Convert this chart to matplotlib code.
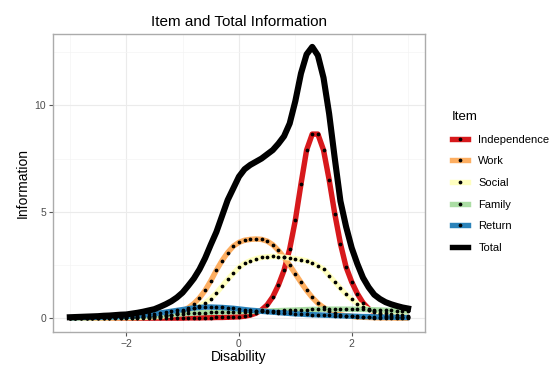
import numpy as np
import matplotlib
matplotlib.use("Agg")
import matplotlib.pyplot as plt
from matplotlib.lines import Line2D

plt.rcParams['font.family'] = ['Liberation Sans', 'DejaVu Sans']

# theta grid, -3 .. 3 by 0.1
theta = np.round(np.arange(-3, 3.001, 0.1), 1)

independence = [0, 0, 0, 0, 0, 0, 0, 0, 0, 0,
                0, 0, 0, 0, 0, 0, 0, 0, 0, 0,
                0, 0.01, 0.01, 0.01, 0.02, 0.02, 0.03, 0.03, 0.04, 0.05,
                0.06, 0.09, 0.14, 0.23, 0.38, 0.62, 1.0, 1.55, 2.25, 3.25,
                4.6, 6.3, 7.9, 8.65, 8.65, 7.9, 6.5, 4.9, 3.5, 2.4,
                1.7, 1.15, 0.72, 0.44, 0.28, 0.18, 0.12, 0.08, 0.05, 0.04,
                0.03]
work = [0, 0, 0, 0, 0, 0, 0, 0, 0, 0.01,
        0.01, 0.01, 0.02, 0.03, 0.04, 0.05, 0.07, 0.1, 0.15, 0.22,
        0.33, 0.48, 0.68, 0.95, 1.3, 1.75, 2.25, 2.7, 3.08, 3.38,
        3.56, 3.66, 3.7, 3.72, 3.7, 3.62, 3.45, 3.18, 2.85, 2.48,
        2.08, 1.68, 1.3, 0.97, 0.7, 0.5, 0.35, 0.24, 0.16, 0.11,
        0.08, 0.05, 0.04, 0.03, 0.02, 0.01, 0.01, 0.01, 0, 0,
        0]
social = [0.01, 0.01, 0.01, 0.01, 0.02, 0.02, 0.02, 0.02, 0.03, 0.03,
          0.03, 0.04, 0.04, 0.05, 0.06, 0.08, 0.1, 0.13, 0.16, 0.21,
          0.27, 0.37, 0.46, 0.58, 0.72, 0.92, 1.18, 1.5, 1.82, 2.1,
          2.38, 2.57, 2.7, 2.79, 2.85, 2.88, 2.9, 2.89, 2.86, 2.83,
          2.79, 2.75, 2.69, 2.6, 2.46, 2.3, 2.0, 1.7, 1.4, 1.12,
          0.88, 0.68, 0.52, 0.4, 0.32, 0.26, 0.22, 0.19, 0.16, 0.14,
          0.12]
family = [0.01, 0.01, 0.02, 0.02, 0.02, 0.03, 0.03, 0.04, 0.04, 0.05,
          0.05, 0.06, 0.07, 0.08, 0.09, 0.1, 0.12, 0.14, 0.16, 0.18,
          0.2, 0.22, 0.23, 0.25, 0.26, 0.27, 0.28, 0.29, 0.29, 0.3,
          0.3, 0.31, 0.31, 0.32, 0.32, 0.33, 0.34, 0.35, 0.36, 0.37,
          0.38, 0.39, 0.4, 0.41, 0.41, 0.42, 0.42, 0.42, 0.42, 0.42,
          0.42, 0.41, 0.41, 0.4, 0.39, 0.38, 0.37, 0.36, 0.35, 0.34,
          0.33]
ret = [0.02, 0.02, 0.03, 0.03, 0.04, 0.04, 0.05, 0.06, 0.06, 0.07,
       0.08, 0.1, 0.12, 0.14, 0.17, 0.2, 0.24, 0.28, 0.32, 0.36,
       0.4, 0.44, 0.48, 0.5, 0.52, 0.52, 0.51, 0.5, 0.48, 0.46,
       0.43, 0.4, 0.37, 0.35, 0.32, 0.3, 0.28, 0.26, 0.24, 0.22,
       0.2, 0.19, 0.17, 0.16, 0.15, 0.14, 0.13, 0.12, 0.11, 0.1,
       0.09, 0.08, 0.07, 0.07, 0.06, 0.05, 0.05, 0.04, 0.04, 0.03,
       0.03]
total = [0.04, 0.05, 0.06, 0.07, 0.08, 0.09, 0.11, 0.12, 0.14, 0.16,
         0.17, 0.21, 0.25, 0.3, 0.36, 0.42, 0.53, 0.65, 0.79, 0.97,
         1.2, 1.52, 1.86, 2.29, 2.82, 3.45, 4.05, 4.8, 5.55, 6.1,
         6.65, 7.0, 7.2, 7.35, 7.5, 7.7, 7.9, 8.2, 8.55, 9.15,
         10.2, 11.5, 12.4, 12.75, 12.35, 11.3, 9.6, 7.5, 5.5, 4.3,
         3.3, 2.55, 1.9, 1.45, 1.1, 0.9, 0.75, 0.65, 0.57, 0.5,
         0.45]

items = ["Independence", "Work", "Social", "Family", "Return"]
series = [independence, work, social, family, ret]
colors = ["#D7191C", "#FDAE61", "#FFFFBF", "#ABDDA4", "#2B83BA"]

fig = plt.figure(figsize=(5.57, 3.67), dpi=100)
ax = fig.add_axes([0.095, 0.095, 0.668, 0.812])

for vals, c in zip(series, colors):
    ax.plot(theta, vals, color=c, lw=3.9, solid_capstyle='butt',
            solid_joinstyle='round', zorder=3)
    ax.plot(theta, vals, ls='none', marker='o', ms=1.7, color='black', zorder=4)
ax.plot(theta, total, color='black', lw=4.4, solid_joinstyle='round', zorder=5)

ax.set_xlim(-3.3, 3.3)
ax.set_ylim(-0.66, 13.35)
ax.set_xticks([-2, 0, 2])
ax.set_yticks([0, 5, 10])
ax.set_xticks([-3, -1, 1, 3], minor=True)
ax.set_yticks([2.5, 7.5, 12.5], minor=True)
ax.grid(which='major', color='#EBEBEB', lw=0.8)
ax.grid(which='minor', color='#F4F4F4', lw=0.5)
ax.set_axisbelow(True)
ax.tick_params(which='major', length=3, color='#555555', labelsize=7.5,
               labelcolor='#4D4D4D', pad=2)
ax.tick_params(which='minor', length=0)
for s in ax.spines.values():
    s.set_color('#ABABAB')
    s.set_linewidth(1.0)

ax.set_xlabel("Disability", fontsize=10, labelpad=1)
ax.set_ylabel("Information", fontsize=10, labelpad=3)
ax.set_title("Item and Total Information", fontsize=11, pad=6)

handles = []
for c in colors:
    handles.append(Line2D([], [], color=c, lw=3.9, marker='o', ms=1.7,
                          markerfacecolor='black', markeredgecolor='black'))
handles.append(Line2D([], [], color='black', lw=3.9))
leg = fig.legend(handles, items + ["Total"], loc='upper left',
                 bbox_to_anchor=(0.793, 0.725), frameon=False, title="Item",
                 fontsize=8, title_fontsize=9.5, handlelength=1.5,
                 handletextpad=0.9, labelspacing=1.05)
leg._legend_box.align = "left"

fig.savefig("out.png", dpi=100)
